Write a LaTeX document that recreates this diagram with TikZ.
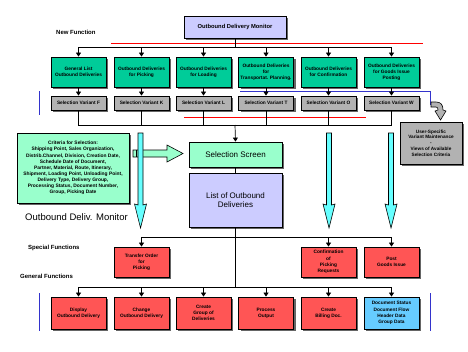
\documentclass[tikz,border=0pt]{standalone}
\usepackage{fontspec}
\setmainfont{Liberation Sans}
\usetikzlibrary{arrows.meta,shadows}
\definecolor{lav}{HTML}{CCCCFF}
\definecolor{grn}{HTML}{00CC99}
\definecolor{mint}{HTML}{99FFCC}
\definecolor{gry}{HTML}{B2B2B2}
\definecolor{redb}{HTML}{FF5555}
\definecolor{blu}{HTML}{66CCFF}
\definecolor{cyn}{HTML}{66FFFF}
\definecolor{ann}{HTML}{3333CC}
\tikzset{
  bx/.style={draw=black, line width=0.8pt, align=center, inner sep=0pt,
    font=\fontsize{4.8}{6.2}\selectfont\bfseries,
    drop shadow={shadow xshift=2pt, shadow yshift=-2pt, fill=black!60, opacity=1}},
  colbox/.style={bx, minimum width=55pt},
  gbox/.style={colbox, fill=grn, minimum height=30pt},
  vbox/.style={colbox, fill=gry, minimum height=14pt},
  rbox/.style={colbox, fill=redb, minimum height=30pt},
  fbox/.style={colbox, fill=redb, minimum height=32pt},
  arr/.style={-{Triangle[width=5pt,length=4pt]}, line width=0.7pt},
  ln/.style={line width=0.7pt},
  redln/.style={red, line width=0.7pt},
  blueln/.style={ann, line width=0.8pt},
  bigarr/.style={draw=black, fill=cyn, line width=0.6pt},
  lbl/.style={anchor=west, inner sep=0pt, font=\fontsize{6}{7}\selectfont\bfseries},
}
\begin{document}
\begin{tikzpicture}[x=1pt,y=-1pt]
\useasboundingbox (0,0) rectangle (468,351);

% annotation lines (behind)
\coordinate (r1a) at (111,43); \coordinate (r1b) at (423,43);
\coordinate (r2a) at (184,117); \coordinate (r2b) at (366,117);
\draw[redln] (r1a) -- (r1b);
\draw[redln] (r2a) -- (r2b);
\coordinate (b1a) at (39,91); \coordinate (b1b) at (39,115);
\coordinate (b2a) at (240,91); \coordinate (b2b) at (430,91); \coordinate (b2c) at (430,105);
\coordinate (b3a) at (39,293); \coordinate (b3b) at (39,331);
\coordinate (b4a) at (430,293); \coordinate (b4b) at (430,331);
\draw[blueln] (b1a) -- (b1b);
\draw[blueln] (b2a) -- (b2b) -- (b2c);
\draw[blueln] (b3a) -- (b3b);
\draw[blueln] (b4a) -- (b4b);

% top
\node[bx, fill=lav, minimum width=102pt, minimum height=22pt, font=\fontsize{5.8}{7}\selectfont\bfseries] (top) at (235,27) {Outbound Delivery Monitor};
\node[lbl] (nf) at (56,32) {New Function};

% green row
\node[gbox] (g1) at (78.5,72) {General List\\Outbound Deliveries};
\node[gbox] (g2) at (141.5,72) {Outbound Deliveries\\for Picking};
\node[gbox] (g3) at (203.5,72) {Outbound Deliveries\\for Loading};
\node[gbox] (g4) at (266,72) {Outbound Deliveries\\for\\Transportat. Planning.};
\node[gbox] (g5) at (328.5,72) {Outbound Deliveries\\for Confirmation};
\node[gbox] (g6) at (391.5,72) {Outbound Deliveries\\for Goods Issue\\Posting};

% gray row
\node[vbox] (v1) at (78.5,103) {Selection Variant F};
\node[vbox] (v2) at (141.5,103) {Selection Variant K};
\node[vbox] (v3) at (203.5,103) {Selection Variant L};
\node[vbox] (v4) at (266,103) {Selection Variant T};
\node[vbox] (v5) at (328.5,103) {Selection Variant O};
\node[vbox] (v6) at (391.5,103) {Selection Variant W};

% connectors top
\coordinate (bus1) at (235,47);
\draw[ln] (top.south) -- (bus1);
\foreach \g in {g1,g2,g3,g4,g5,g6}{\draw[arr] (bus1) -| (\g.north);}
\foreach \i in {1,...,6}{\draw[arr] (g\i.south) -- (v\i.north);}

\coordinate (bus2) at (235,125);
\draw[ln] (v1.south) |- (v6.south |- bus2) -- (v6.south);
\foreach \v in {v2,v3,v4,v5}{\draw[ln] (\v.south) -- (\v.south |- bus2);}

% middle
\node[bx, fill=mint, minimum width=93pt, minimum height=25pt, font=\fontsize{8}{9}\selectfont] (sel) at (235.5,154.5) {Selection Screen};
\node[bx, fill=lav, minimum width=93pt, minimum height=54pt, font=\fontsize{8}{9.5}\selectfont] (list) at (235.5,200) {List of Outbound\\Deliveries};
\draw[arr] (bus2) -- (sel.north);
\draw[ln] (sel.south) -- (list.north);

\node[bx, fill=mint, minimum width=112pt, minimum height=70pt, font=\fontsize{4.9}{6.1}\selectfont\bfseries] (crit) at (73,168)
 {Criteria for Selection:\\Shipping Point, Sales Organization,\\Distrib.Channel, Division, Creation Date,\\Schedule Date of Document,\\Partner, Material, Route, Itinerary,\\Shipment, Loading Point, Unloading Point,\\Delivery Type, Delivery Group,\\Processing Status, Document Number,\\Group, Picking Date};

\node[bx, fill=gry, minimum width=62pt, minimum height=42pt, font=\fontsize{4.7}{5.8}\selectfont\bfseries] (usr) at (431,143)
 {User-Specific\\Variant Maintenance\\-\\Views of Available\\Selection Criteria};

% horizontal arrow to selection screen
\draw[draw=black, fill=mint, line width=0.6pt] (133,150) -- (167,150) -- (167,145) -- (183,153.5) -- (167,162) -- (167,157) -- (133,157) -- cycle;
\draw[line width=0.6pt] (136.5,150) -- (136.5,157);
% big cyan arrows
\draw[bigarr] (138,133) -- (143,133) -- (143,205) -- (146.5,204) -- (140.5,228) -- (134.5,204) -- (138,205) -- cycle;
\draw[bigarr] (326.5,133) -- (331.5,133) -- (331.5,205) -- (335,204) -- (329,228) -- (323,204) -- (326.5,205) -- cycle;
\draw[bigarr] (388.5,133) -- (393.5,133) -- (393.5,205) -- (397,204) -- (391,228) -- (385,204) -- (388.5,205) -- cycle;
\node[anchor=west, inner sep=0pt, font=\fontsize{9.5}{11}\selectfont] (odm) at (25,217) {Outbound Deliv. Monitor};

% gray bent arrow
\draw[draw=black, fill=gry, line width=0.6pt] (431,102) -- (436,102) .. controls (441,102) and (443,105) .. (443,110) -- (446,111) -- (440.5,120) -- (435,111) -- (438,110) .. controls (438,108) and (437.5,107) .. (436,107) -- (431,107) -- cycle;

% special / general functions
\node[lbl] (sf) at (28,248) {Special Functions};
\node[lbl] (gf) at (20,276) {General Functions};

\node[rbox] (s2) at (141.5,262) {Transfer Order\\for\\Picking};
\node[rbox] (s5) at (328.5,262) {Confirmation\\of\\Picking\\Requests};
\node[rbox] (s6) at (391.5,262) {Post\\Goods Issue};

\node[fbox] (f1) at (78.5,313) {Display\\Outbound Delivery};
\node[fbox] (f2) at (141.5,313) {Change\\Outbound Delivery};
\node[fbox] (f3) at (203.5,313) {Create\\Group of\\Deliveries};
\node[fbox] (f4) at (266,313) {Process\\Output};
\node[fbox] (f5) at (328.5,313) {Create\\Billing Doc.};
\node[fbox, fill=blu] (f6) at (391.5,313) {Document Status\\Document Flow\\Header Data\\Group Data};

\coordinate (bus3) at (235.5,237);
\coordinate (bus4) at (235.5,287);
\draw[ln] (list.south) -- (bus4);
\foreach \s in {s2,s5,s6}{\draw[arr] (bus3) -| (\s.north);}
\foreach \f in {f1,f2,f3,f4,f5,f6}{\draw[arr] (bus4) -| (\f.north);}
\end{tikzpicture}
\end{document}
